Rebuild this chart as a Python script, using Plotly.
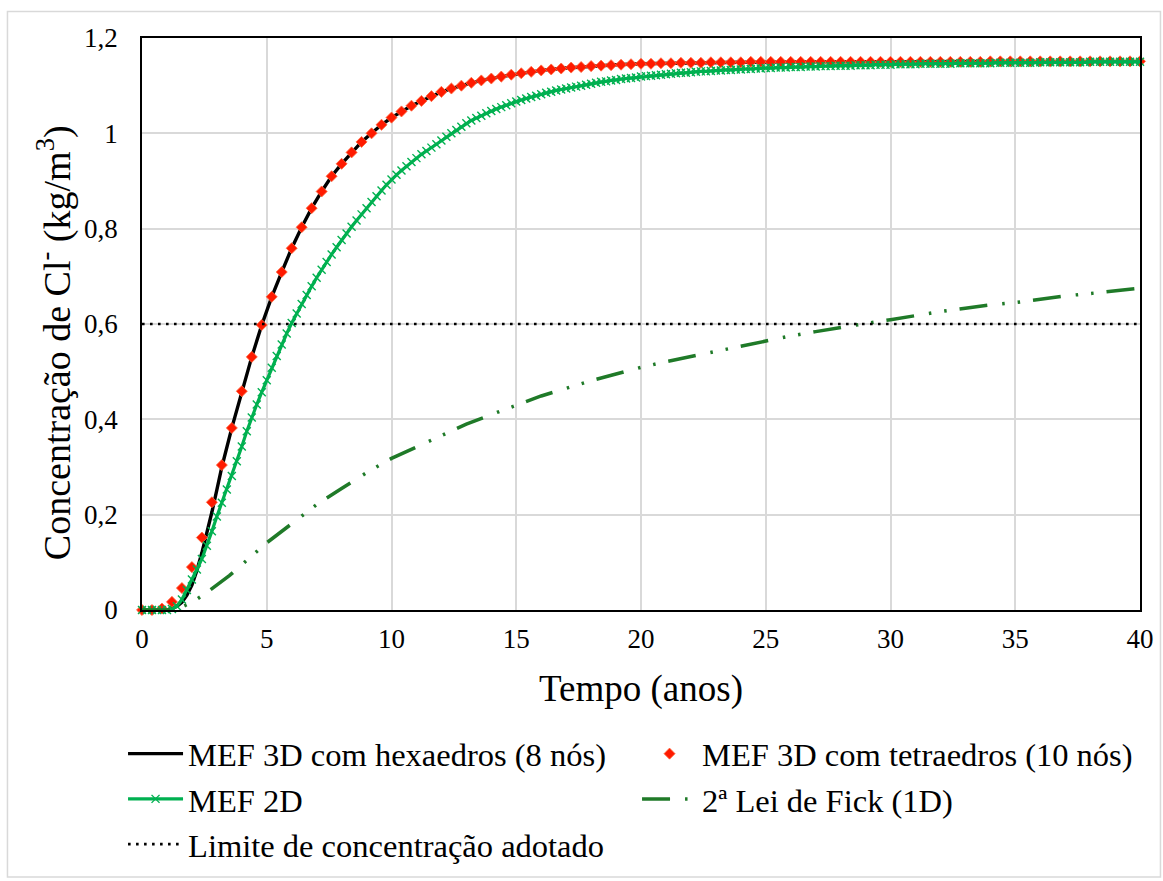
import plotly.graph_objects as go

# ---------------- data ----------------
# MEF 3D hexaedros (solid black line)
hexa_t = [0, 0.5, 1.0, 1.2, 1.4, 1.6, 1.8, 2.0, 2.2, 2.4, 2.6, 2.8, 3.0, 3.2, 3.6, 4.0,
          4.4, 4.8, 5.2, 5.6, 6.0, 6.4, 6.8, 7.2, 7.6, 8.0, 8.4, 8.8, 9.2, 9.6, 10.0, 10.4,
          10.8, 11.2, 11.6, 12.0, 12.8, 13.6, 14.4, 15.2, 16.0, 17.0, 18.0, 19.0, 20.0,
          22.0, 24.0, 26.0, 28.0, 30.0, 34.0, 40.0]
hexa_c = [0, 0, 0, 0.003, 0.008, 0.016, 0.031, 0.052, 0.083, 0.120, 0.160, 0.205, 0.252,
          0.300, 0.382, 0.459, 0.531, 0.598, 0.657, 0.709, 0.759, 0.803, 0.843, 0.878, 0.910,
          0.936, 0.960, 0.982, 1.000, 1.018, 1.033, 1.046, 1.058, 1.068, 1.078, 1.087, 1.100,
          1.111, 1.119, 1.126, 1.132, 1.137, 1.141, 1.144, 1.146, 1.148, 1.149, 1.150, 1.150,
          1.151, 1.151, 1.151]

# MEF 3D tetraedros (red diamonds), every 0.4 year
tetra_t = [round(0.4 * i, 1) for i in range(101)]
tetra_c = [0, 0, 0.003, 0.017, 0.046, 0.090, 0.152, 0.226, 0.304, 0.382,
           0.459, 0.531, 0.598, 0.657, 0.709, 0.759, 0.803, 0.843, 0.878, 0.910,
           0.936, 0.960, 0.982, 1.000, 1.018, 1.033, 1.046, 1.058, 1.068, 1.078,
           1.087, 1.094, 1.100, 1.106, 1.111, 1.115, 1.119, 1.123, 1.126, 1.129,
           1.132, 1.134, 1.136, 1.138, 1.139, 1.141, 1.142, 1.143, 1.144, 1.145,
           1.146, 1.146, 1.147, 1.147, 1.148, 1.148, 1.148, 1.149, 1.149, 1.149,
           1.149, 1.150, 1.150, 1.150, 1.150, 1.150, 1.150, 1.150, 1.150, 1.150,
           1.150, 1.150, 1.150, 1.150, 1.150, 1.150, 1.150, 1.150, 1.150, 1.150,
           1.150, 1.150, 1.150, 1.150, 1.150, 1.151, 1.151, 1.151, 1.151, 1.151,
           1.151, 1.151, 1.151, 1.151, 1.151, 1.151, 1.151, 1.151, 1.151, 1.151,
           1.151]

# MEF 2D (green line with x markers), every 0.2 year
mef2d_t = [round(0.2 * i, 1) for i in range(201)]
mef2d_c = [0, 0, 0, 0, 0, 0, 0.002, 0.008, 0.022, 0.042,
           0.064, 0.085, 0.107, 0.135, 0.165, 0.196, 0.225, 0.253, 0.281, 0.312,
           0.343, 0.375, 0.404, 0.431, 0.457, 0.482, 0.508, 0.533, 0.557, 0.580,
           0.602, 0.622, 0.642, 0.661, 0.679, 0.697, 0.714, 0.730, 0.746, 0.761,
           0.776, 0.790, 0.804, 0.817, 0.830, 0.843, 0.856, 0.868, 0.880, 0.892,
           0.903, 0.913, 0.922, 0.931, 0.940, 0.948, 0.956, 0.963, 0.970, 0.977,
           0.985, 0.993, 1.000, 1.007, 1.014, 1.021, 1.027, 1.032, 1.037, 1.042,
           1.047, 1.051, 1.055, 1.059, 1.063, 1.067, 1.070, 1.073, 1.076, 1.079,
           1.082, 1.085, 1.087, 1.090, 1.092, 1.094, 1.096, 1.098, 1.100, 1.102,
           1.104, 1.106, 1.108, 1.109, 1.111, 1.112, 1.114, 1.115, 1.116, 1.117,
           1.119, 1.120, 1.121, 1.122, 1.123, 1.124, 1.125, 1.126, 1.127, 1.127,
           1.128, 1.129, 1.130, 1.130, 1.131, 1.132, 1.132, 1.133, 1.133, 1.134,
           1.134, 1.135, 1.135, 1.136, 1.136, 1.137, 1.137, 1.138, 1.138, 1.138,
           1.139, 1.139, 1.139, 1.140, 1.140, 1.140, 1.141, 1.141, 1.141, 1.142,
           1.142, 1.142, 1.142, 1.143, 1.143, 1.143, 1.143, 1.144, 1.144, 1.144,
           1.144, 1.145, 1.145, 1.145, 1.145, 1.145, 1.146, 1.146, 1.146, 1.146,
           1.146, 1.146, 1.146, 1.147, 1.147, 1.147, 1.147, 1.147, 1.147, 1.147,
           1.147, 1.148, 1.148, 1.148, 1.148, 1.148, 1.148, 1.148, 1.148, 1.148,
           1.149, 1.149, 1.149, 1.149, 1.149, 1.149, 1.149, 1.149, 1.149, 1.149,
           1.150, 1.150, 1.150, 1.150, 1.150, 1.150, 1.150, 1.150, 1.150, 1.150,
           1.150]

# 2a Lei de Fick (1D)
fick_t = [0, 1.0, 1.5, 2.0, 2.5, 3.0, 3.5, 4.0, 4.5, 5.0, 6, 7, 8, 9, 10, 11, 12, 13, 14,
          15, 16, 17, 18, 19, 20, 21, 22, 23, 24, 25, 26, 27, 28, 29, 30, 31, 32, 33, 34,
          35, 36, 37, 38, 39, 40]
fick_c = [0, 0, 0.004, 0.016, 0.033, 0.053, 0.072, 0.095, 0.119, 0.141, 0.181, 0.221,
          0.255, 0.288, 0.318, 0.342, 0.368, 0.390, 0.410, 0.430, 0.449, 0.465, 0.481,
          0.495, 0.509, 0.521, 0.532, 0.543, 0.554, 0.564, 0.575, 0.584, 0.593, 0.601,
          0.609, 0.618, 0.626, 0.633, 0.640, 0.645, 0.652, 0.659, 0.664, 0.670, 0.675]

# Limite de concentração adotado
limit_t = [0, 40]
limit_c = [0.6, 0.6]

x_ticks = [0, 5, 10, 15, 20, 25, 30, 35, 40]
y_ticks = [0, 0.2, 0.4, 0.6, 0.8, 1.0, 1.2]
y_ticklabels = ["0", "0,2", "0,4", "0,6", "0,8", "1", "1,2"]

names = ["MEF 3D com hexaedros (8 nós)", "MEF 3D com tetraedros (10 nós)",
         "MEF 2D", "2ª Lei de Fick (1D)", "Limite de concentração adotado"]
y_title = "Concentração de Cl<sup>-</sup> (kg/m<sup>3</sup>)"
x_title = "Tempo (anos)"

# ---------------- figure ----------------
FONT = "Liberation Serif"
fig = go.Figure()

fig.add_trace(go.Scatter(x=hexa_t, y=hexa_c, mode="lines", name=names[0],
                         line=dict(color="black", width=3.4), cliponaxis=False))
fig.add_trace(go.Scatter(x=tetra_t, y=tetra_c, mode="markers", name=names[1],
                         marker=dict(symbol="diamond", size=8.5, color="#ff1a00",
                                     line=dict(width=0.8, color="#ff6a40")),
                         cliponaxis=False))
fig.add_trace(go.Scatter(x=mef2d_t, y=mef2d_c, mode="lines+markers", name=names[2],
                         line=dict(color="#00b050", width=3.2),
                         marker=dict(symbol="x-thin", size=8,
                                     line=dict(width=1.4, color="#00b050")),
                         cliponaxis=False))
fig.add_trace(go.Scatter(x=fick_t, y=fick_c, mode="lines", name=names[3],
                         line=dict(color="#1f7a28", width=3.5,
                                   dash="28px,15px,2.5px,13px,2.5px,13px")))
fig.add_trace(go.Scatter(x=limit_t, y=limit_c, mode="lines", name=names[4],
                         line=dict(color="black", width=2.6, dash="2.6px,5.4px")))

# outer light-grey frame
fig.add_shape(type="rect", xref="paper", yref="paper",
              x0=-0.1348, x1=1.0205, y0=-0.4668, y1=1.0463,
              line=dict(color="#d9d9d9", width=1.5), layer="below")

# y-axis title (placed as rotated text, like the reference)
fig.add_annotation(text=y_title, xref="paper", yref="paper", x=-0.087, y=0.4668,
                   xanchor="center", yanchor="middle", textangle=-90, showarrow=False,
                   font=dict(family=FONT, size=38, color="black"))

fig.update_layout(
    width=1163, height=881,
    margin=dict(l=142, r=23, t=38, b=271, autoexpand=False),
    paper_bgcolor="white", plot_bgcolor="white",
    font=dict(family=FONT, color="black", size=27),
    showlegend=True,
    legend=dict(orientation="h", x=-0.019, xanchor="left", y=-0.2028, yanchor="top",
                entrywidth=444, entrywidthmode="pixels", itemwidth=55,
                font=dict(family=FONT, size=32.5, color="black"),
                bgcolor="rgba(0,0,0,0)", tracegroupgap=0),
    xaxis=dict(range=[0, 40], tickvals=x_ticks, showgrid=True, gridcolor="#d9d9d9",
               gridwidth=1.5, showline=True, linecolor="black", linewidth=1.8,
               mirror=True, ticks="", zeroline=False, automargin=False,
               ticklabelstandoff=4,
               tickfont=dict(family=FONT, size=27, color="black"),
               title=dict(text=x_title, font=dict(family=FONT, size=37),
                          standoff=22)),
    yaxis=dict(range=[0, 1.2], tickvals=y_ticks, ticktext=y_ticklabels, showgrid=True,
               gridcolor="#d9d9d9", gridwidth=1.5, showline=True, linecolor="black",
               linewidth=1.8, mirror=True, ticks="", zeroline=False, automargin=False,
               ticklabelstandoff=17,
               tickfont=dict(family=FONT, size=27, color="black")),
)

fig.write_html("out.html", config={"displayModeBar": False},
               post_script="document.body.style.margin='0px';"
                           "document.body.style.overflow='hidden';")
